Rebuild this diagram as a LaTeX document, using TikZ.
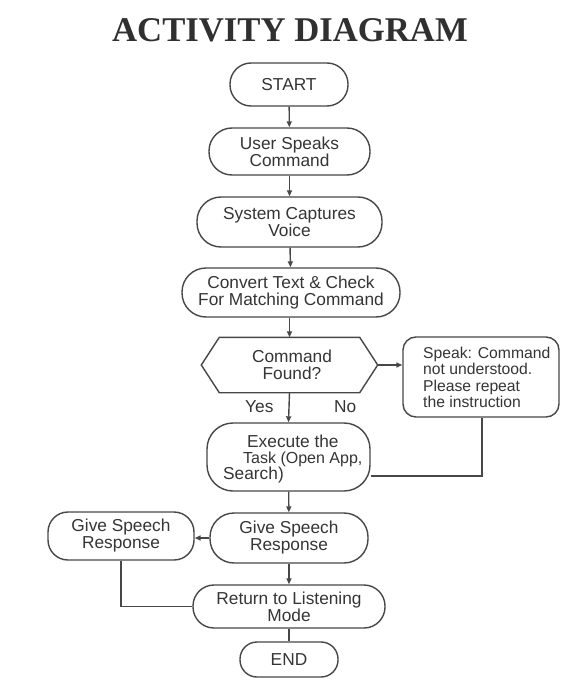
\documentclass[tikz,border=0pt]{standalone}
\usepackage{fontspec}
\setmainfont{Liberation Sans}
\newfontfamily\titlefont{Liberation Serif}
\usetikzlibrary{arrows.meta}
\definecolor{ln}{HTML}{474747}
\definecolor{tx}{HTML}{353535}
\begin{document}
\begin{tikzpicture}[x=1pt,y=-1pt,
  box/.style={draw=ln, line width=1.4pt, text=tx, align=center, inner sep=0pt,
    font=\fontsize{17.3}{17}\selectfont},
  txt/.style={text=tx, inner sep=0pt, font=\fontsize{17.3}{17}\selectfont},
  arr/.style={draw=ln, line width=1.4pt, -{Triangle[length=6pt,width=5pt]}},
  plain/.style={draw=ln, line width=1.4pt}]
\useasboundingbox[fill=white] (0,0) rectangle (563,679);
\node[text=tx!90!black, inner sep=0pt, font=\titlefont\bfseries\fontsize{34.7}{36}\selectfont, anchor=base] (title) at (290,42) {ACTIVITY DIAGRAM};
\node[box, minimum width=118pt, minimum height=43pt, rounded corners=21pt] (start) at (289,84.5) {START};
\node[box, minimum width=161pt, minimum height=47pt, rounded corners=23pt] (user) at (289.5,151.5) {User Speaks\\Command};
\node[box, minimum width=185pt, minimum height=50pt, rounded corners=24pt] (sys) at (289.5,222) {System Captures\\Voice};
\node[box, minimum width=218pt, minimum height=49pt, rounded corners=24pt] (conv) at (291,292.5) {Convert Text \& Check\\For Matching Command};
\node[box, draw=none, minimum width=175pt, minimum height=54pt] (dec) at (289.5,365) {\hspace*{5pt}Command\\\hspace*{5pt}Found?};
\draw[plain] (dec.west) -- ([xshift=18pt]dec.north west) -- ([xshift=-18pt]dec.north east) -- (dec.east) -- ([xshift=-18pt]dec.south east) -- ([xshift=18pt]dec.south west) -- cycle;
\node[box, minimum width=156pt, minimum height=80pt, rounded corners=13pt] (speak) at (481,377) {};
\node[txt, anchor=north west, align=left, font=\fontsize{15.7}{16.5}\selectfont] (speaktxt) at (423,346.5) {Speak: Command\\not understood.\\Please repeat\\the instruction};
\node[txt, anchor=base west] (yes) at (245,412) {Yes};
\node[txt, anchor=base west] (no) at (334,412) {No};
\node[box, minimum width=163pt, minimum height=68pt, rounded corners=26pt] (exe) at (288.5,457) {};
\node[txt, anchor=base west] (e1) at (247,447) {Execute the};
\node[txt, anchor=base west, font=\fontsize{16}{17}\selectfont] (e2) at (243,463) {Task (Open App,};
\node[txt, anchor=base west] (e3) at (223,479) {Search)};
\node[box, minimum width=158pt, minimum height=50pt, rounded corners=24pt] (give) at (289,538) {Give Speech\\Response};
\node[box, minimum width=146pt, minimum height=48pt, rounded corners=20pt] (left) at (121,536) {Give Speech\\Response};
\node[box, minimum width=192pt, minimum height=43pt, rounded corners=21pt] (ret) at (289,606.5) {Return to Listening\\Mode};
\node[box, minimum width=98pt, minimum height=35pt, rounded corners=17pt] (end) at (289,659.5) {END};
\draw[arr] (start) -- (user);
\draw[arr] (user) -- (sys);
\draw[arr] (sys) -- (conv);
\draw[arr] (conv.south -| dec.north) -- (dec.north);
\draw[arr] (dec.east) -- (speak.west |- dec.east);
\draw[arr] (dec.south) -- (exe.north);
\coordinate (c1) at (482,476);
\draw[plain] (speak.south -| c1) -- (c1) -- (exe.east |- c1);
\draw[arr] (exe) -- (give);
\draw[arr] (give.west) -- (left.east |- give.west);
\draw[arr] (give) -- (ret);
\coordinate (c2) at (121,606.5);
\draw[plain] (left.south) -- (c2) -- (ret.west);
\draw[plain] (ret) -- (end);
\end{tikzpicture}
\end{document}
